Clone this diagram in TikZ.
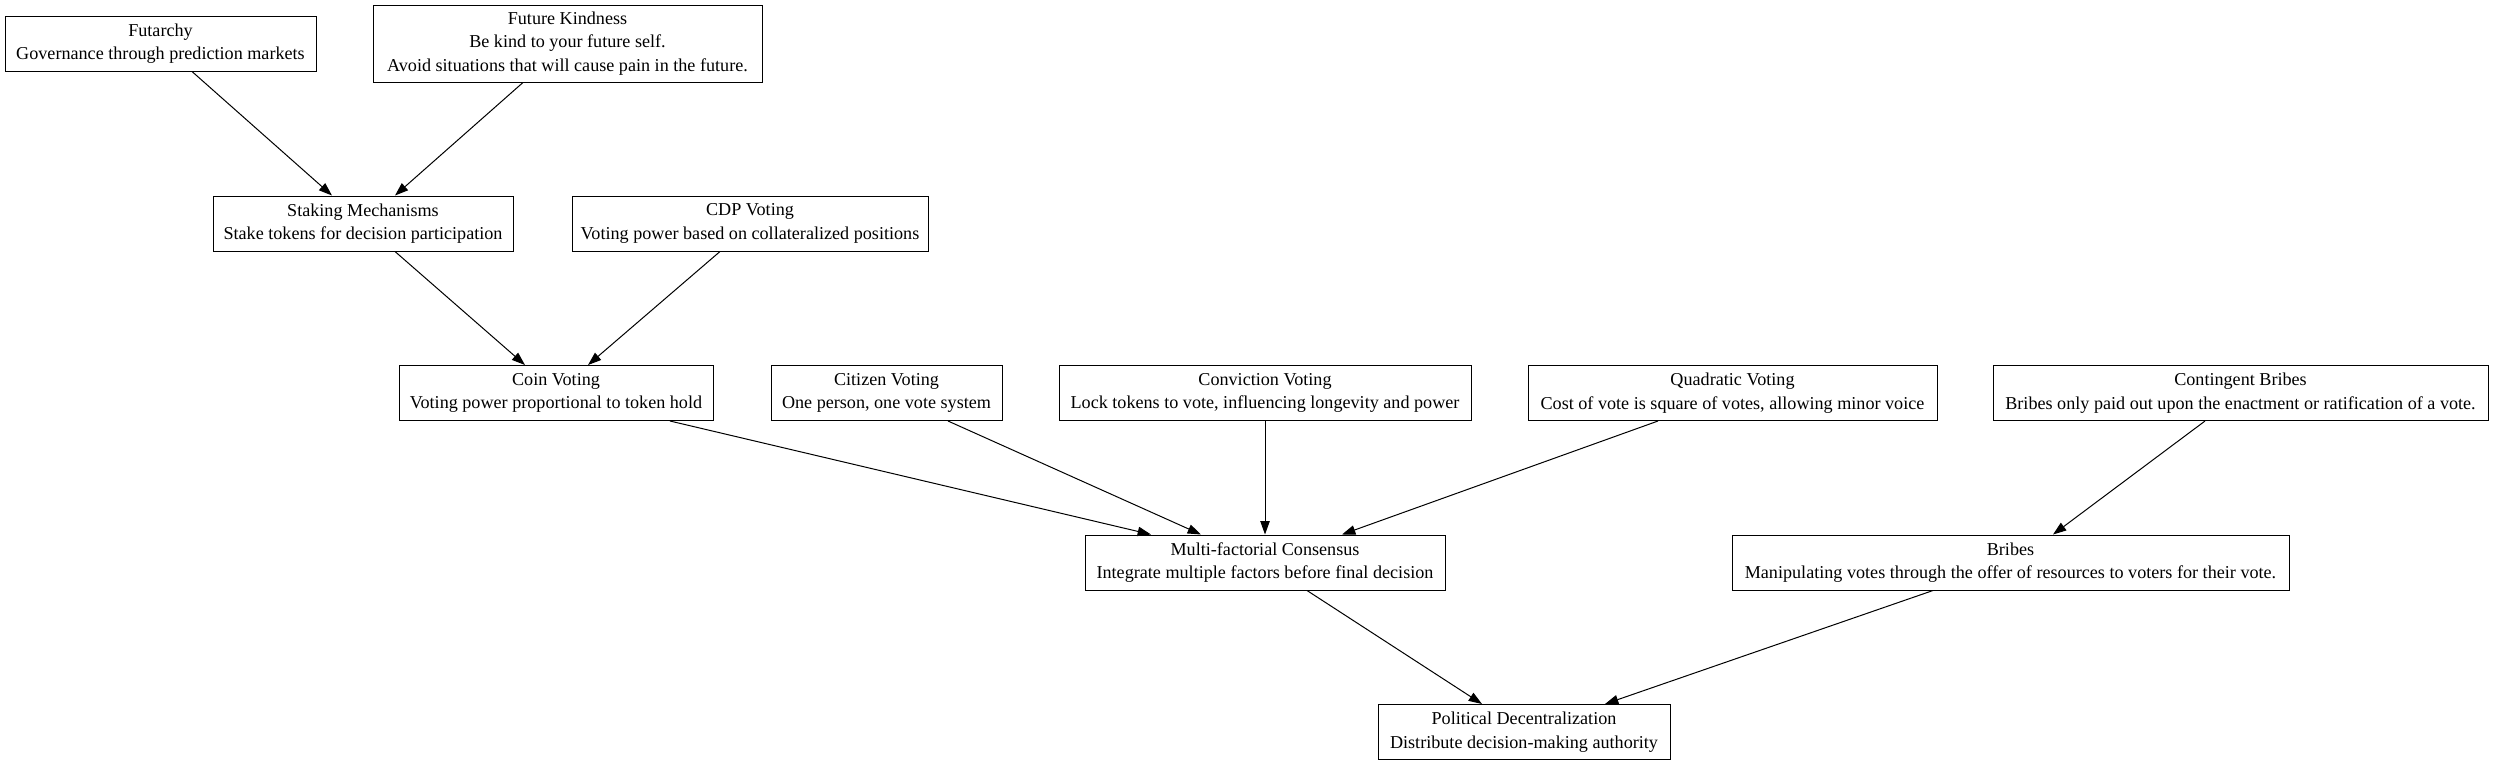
\documentclass[tikz,border=0pt]{standalone}
\usepackage{fontspec}
\setmainfont{Liberation Serif}
\usetikzlibrary{arrows.meta,calc}
\begin{document}
\begin{tikzpicture}[x=0.75pt,y=-0.75pt,
  box/.style={draw,line width=0.75pt,align=center,inner xsep=0pt,inner ysep=0pt,
    font=\fontsize{13.6pt}{17.6pt}\selectfont,minimum height=41.25pt},
  tall/.style={minimum height=57.75pt},
  arr/.style={line width=0.75pt,-{Triangle[length=10pt,width=7pt]}}]
\useasboundingbox (0,0) rectangle (2495,765);
\node[box,minimum width=233.25pt] (fut) at (160.5,43.5) {Futarchy\\Governance through prediction markets};
\node[box,tall,minimum width=291.75pt] (fk) at (567.5,43.5) {Future Kindness\\Be kind to your future self.\\Avoid situations that will cause pain in the future.};
\node[box,minimum width=225pt] (stake) at (363,223.5) {Staking Mechanisms\\Stake tokens for decision participation};
\node[box,minimum width=267pt] (cdp) at (750,223.5) {CDP Voting\\Voting power based on collateralized positions};
\node[box,minimum width=235.5pt] (coin) at (556,393) {Coin Voting\\Voting power proportional to token hold};
\node[box,minimum width=173.25pt] (cit) at (886.5,393) {Citizen Voting\\One person, one vote system};
\node[box,minimum width=309pt] (conv) at (1265,393) {Conviction Voting\\Lock tokens to vote, influencing longevity and power};
\node[box,minimum width=306.75pt] (quad) at (1732.5,393) {Quadratic Voting\\Cost of vote is square of votes, allowing minor voice};
\node[box,minimum width=371.25pt] (cont) at (2240.5,393) {Contingent Bribes\\Bribes only paid out upon the enactment or ratification of a vote.};
\node[box,minimum width=270pt] (multi) at (1265,562.5) {Multi-factorial Consensus\\Integrate multiple factors before final decision};
\node[box,minimum width=417.75pt] (bribes) at (2010.5,562.5) {Bribes\\Manipulating votes through the offer of resources to voters for their vote.};
\node[box,minimum width=219pt] (pol) at (1524,732) {Political Decentralization\\Distribute decision-making authority};
\draw[arr] ($(fut.south)+(31.5,0)$) -- ($(stake.north)+(-31,0)$);
\draw[arr] ($(fk.south)+(-44.5,0)$) -- ($(stake.north)+(32,0)$);
\draw[arr] ($(stake.south)+(32,0)$) -- ($(coin.north)+(-31,0)$);
\draw[arr] ($(cdp.south)+(-30,0)$) -- ($(coin.north)+(32,0)$);
\draw[arr] ($(coin.south)+(114,0)$) -- ($(multi.north)+(-114,0)$);
\draw[arr] ($(cit.south)+(61.5,0)$) -- ($(multi.north)+(-64,0)$);
\draw[arr] (conv.south) -- (multi.north);
\draw[arr] ($(quad.south)+(-74.5,0)$) -- ($(multi.north)+(77,0)$);
\draw[arr] ($(cont.south)+(-35.5,0)$) -- ($(bribes.north)+(42.5,0)$);
\draw[arr] ($(multi.south)+(42,0)$) -- ($(pol.north)+(-42,0)$);
\draw[arr] ($(bribes.south)+(-77.5,0)$) -- ($(pol.north)+(81,0)$);
\end{tikzpicture}
\end{document}
